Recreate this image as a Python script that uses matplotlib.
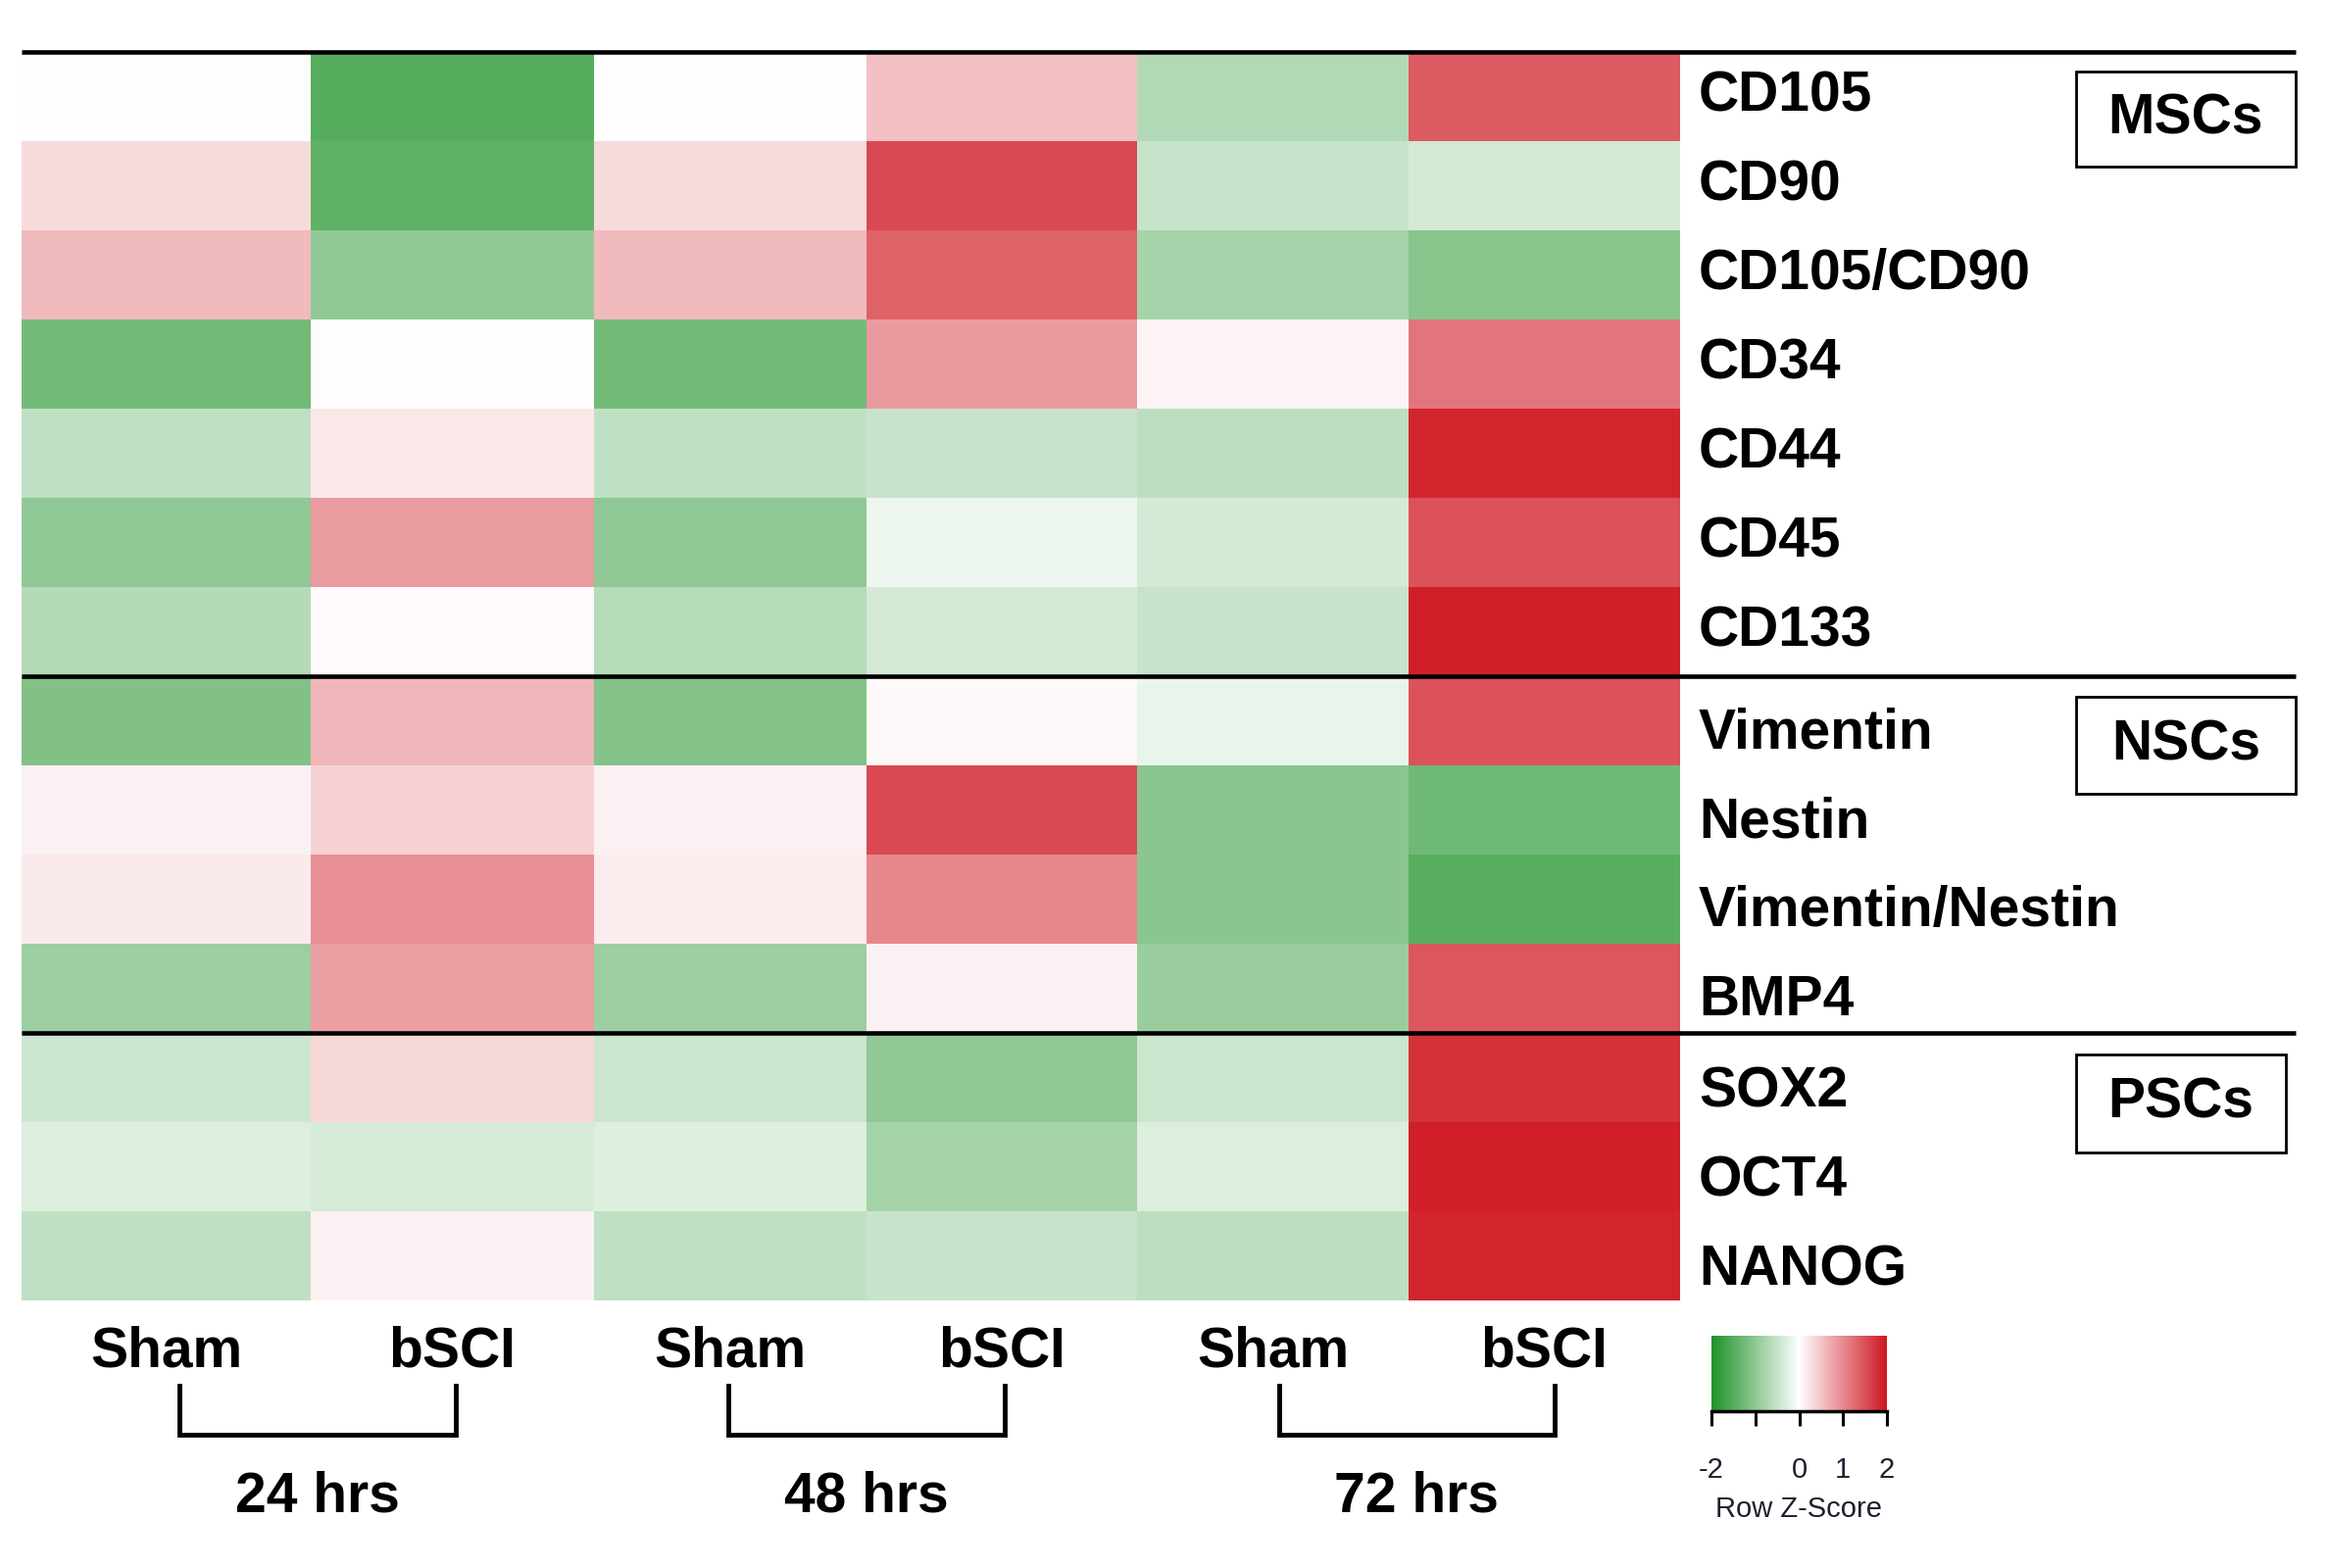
#!/usr/bin/env python3

import matplotlib
matplotlib.use('Agg')
import matplotlib.pyplot as plt
import numpy as np
from matplotlib.colors import LinearSegmentedColormap
from matplotlib.patches import Rectangle

plt.rcParams['font.family'] = ['Liberation Sans', 'DejaVu Sans']

# markers (rows) and samples (columns)
genes = ['CD105', 'CD90', 'CD105/CD90', 'CD34', 'CD44', 'CD45', 'CD133',
         'Vimentin', 'Nestin', 'Vimentin/Nestin', 'BMP4',
         'SOX2', 'OCT4', 'NANOG']
samples = ['Sham', 'bSCI', 'Sham', 'bSCI', 'Sham', 'bSCI']
timepoints = ['24 hrs', '48 hrs', '72 hrs']
groups = ['MSCs', 'NSCs', 'PSCs']

# row z-scores
zscores = np.array([
    [0.00, -1.50, 0.00, 0.54, -0.68, 1.40],
    [0.32, -1.41, 0.32, 1.55, -0.50, -0.40],
    [0.58, -0.97, 0.58, 1.34, -0.79, -1.06],
    [-1.24, 0.02, -1.24, 0.87, 0.08, 1.18],
    [-0.56, 0.20, -0.56, -0.50, -0.58, 1.86],
    [-1.00, 0.85, -1.00, -0.15, -0.38, 1.47],
    [-0.67, 0.04, -0.65, -0.39, -0.50, 1.91],
    [-1.11, 0.64, -1.10, 0.06, -0.19, 1.47],
    [0.11, 0.39, 0.11, 1.55, -1.04, -1.27],
    [0.18, 0.95, 0.16, 1.02, -1.03, -1.48],
    [-0.88, 0.82, -0.88, 0.12, -0.90, 1.44],
    [-0.45, 0.34, -0.46, -1.00, -0.46, 1.76],
    [-0.30, -0.37, -0.29, -0.80, -0.30, 1.91],
    [-0.56, 0.11, -0.56, -0.50, -0.58, 1.86],
])

cmap = LinearSegmentedColormap.from_list('gwr', ['#1e9128', '#ffffff', '#ce1620'])

W, H = 2375, 1600
fig = plt.figure(figsize=(W / 100, H / 100), dpi=100)

# heatmap area (pixels); columns are not all the same width in the original
col_edges = np.array([22, 317, 606, 884, 1160, 1437, 1714])
row_edges = np.arange(len(genes) + 1)
y0, y1 = 53, 1327
ax = fig.add_axes([0, 1 - y1 / H, 1, (y1 - y0) / H])
mesh = ax.pcolormesh(col_edges, row_edges, zscores, cmap=cmap, vmin=-2, vmax=2)
ax.set_xlim(0, W)
ax.set_ylim(len(genes), 0)
ax.axis('off')

fs = 41
# labels sit a little lower in the NSC / PSC blocks
label_shift = [0.0] * 7 + [0.14] * 4 + [0.17] * 3
for i, g in enumerate(genes):
    ax.text(1733, i + 0.5 + label_shift[i], g, fontsize=fs, fontweight='bold',
            va='center', ha='left')

# separators
ax.hlines([0, 7, 11], col_edges[0], 2342, colors='black', lw=3.3, clip_on=False)

# group boxes
boxes = [(2118, 0.22, 224, 1.07), (2118, 7.23, 224, 1.09), (2118, 11.24, 214, 1.10)]
for (bx, by, bw, bh), name in zip(boxes, groups):
    ax.add_patch(Rectangle((bx, by), bw, bh, fill=False, ec='black', lw=2, clip_on=False))
    ax.text(bx + bw / 2, by + bh / 2, name, fontsize=fs, fontweight='bold',
            ha='center', va='center')

# sample labels, brackets and time points
centers = (col_edges[:-1] + col_edges[1:]) / 2
for c, s in zip(centers, samples):
    ax.text(c, 14.58, s, fontsize=fs, fontweight='bold', ha='center', va='center',
            clip_on=False)
bracket_pad = [(13, 3), (-2, 3), (6, 10)]
for k, t in enumerate(timepoints):
    left = centers[2 * k] + bracket_pad[k][0]
    right = centers[2 * k + 1] + bracket_pad[k][1]
    ax.plot([left, left, right, right], [14.96, 15.51, 15.51, 14.96],
            color='black', lw=3.5, clip_on=False, solid_joinstyle='miter')
    ax.text((left + right) / 2, 16.2, t, fontsize=fs, fontweight='bold',
            ha='center', va='center', clip_on=False)

# colour key
cax = fig.add_axes([1746 / W, 1 - 1440 / H, 179 / W, 77 / H])
cb = fig.colorbar(mesh, cax=cax, orientation='horizontal')
cb.outline.set_visible(False)
cb.set_ticks([-2, -1, 0, 1, 2])
cb.set_ticklabels(['-2', '', '0', '1', '2'])
cax.tick_params(axis='x', length=11, width=2.2, pad=22, labelsize=21,
                colors='black', labelcolor='#1f1f2e')
cax.axhline(0, color='black', lw=2.5, clip_on=False)
cax.set_xlabel('Row Z-Score', fontsize=21, color='#1f1f2e', labelpad=9)

fig.savefig('out.png', dpi=100)
